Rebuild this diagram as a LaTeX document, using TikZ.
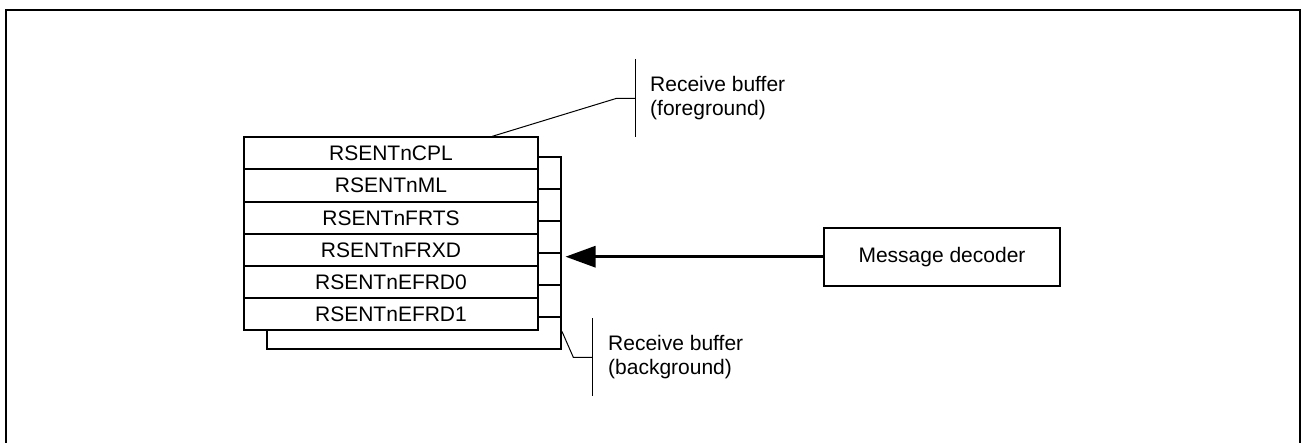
\documentclass[tikz,border=0pt]{standalone}
\usepackage{fontspec}
\setmainfont{Liberation Sans}
\usetikzlibrary{arrows.meta,calc}
\tikzset{
  txt/.style={font=\fontsize{21pt}{24pt}\selectfont},
  regrow/.style={txt, draw, line width=2pt, fill=white, inner sep=0pt,
    minimum width=294pt, minimum height=32.2pt},
  backrow/.style={draw, line width=2pt, fill=white, inner sep=0pt,
    minimum width=294.3pt, minimum height=32.05pt},
  blockbox/.style={txt, draw, line width=2pt, fill=white, inner sep=0pt,
    minimum width=236pt, minimum height=58pt},
  thinline/.style={line width=1pt},
  framestyle/.style={line width=1.7pt},
  arr/.style={line width=3pt, -{Triangle[length=30pt,width=21pt]}, shorten >=3.5pt},
  lbl/.style={txt, align=left, anchor=west, inner sep=0pt}
}
\begin{document}
\begin{tikzpicture}[x=1pt,y=-1pt]
\useasboundingbox (0,0) rectangle (1301,443);
% outer frame
\draw[framestyle] (6,450) -- (6,10) -- (1300,10) -- (1300,450);
% background buffer
\node[backrow] (b1) at (413.85,172.7) {};
\node[backrow] (b2) at (413.85,204.75) {};
\node[backrow] (b3) at (413.85,236.8) {};
\node[backrow] (b4) at (413.85,268.85) {};
\node[backrow] (b5) at (413.85,300.9) {};
\node[backrow] (b6) at (413.85,332.95) {};
% foreground buffer
\node[regrow] (r1) at (391,153.4) {RSENTnCPL};
\node[regrow] (r2) at (391,185.6) {RSENTnML};
\node[regrow] (r3) at (391,217.8) {RSENTnFRTS};
\node[regrow] (r4) at (391,250.0) {RSENTnFRXD};
\node[regrow] (r5) at (391,282.2) {RSENTnEFRD0};
\node[regrow] (r6) at (391,314.4) {RSENTnEFRD1};
% message decoder
\node[blockbox] (md) at (942,256.7) {Message decoder};
\draw[arr] (md.west) -- (md.west -| b1.east);
% foreground label
\coordinate (fk) at (616.7,98.3);
\coordinate (ft) at (635.7,98.3);
\draw[thinline] (635.7,59) -- (635.7,136.7);
\draw[thinline] ($(r1.north west)!0.8425!(r1.north east)$) -- (fk) -- (ft);
\node[lbl] (fl) at (650,98.3) {Receive buffer\\(foreground)};
% background label
\coordinate (bk) at (573.3,357.3);
\coordinate (bt) at (592.7,357.3);
\draw[thinline] (592.7,318.3) -- (592.7,396);
\draw[thinline] (b6.east |- r6.south) -- (bk) -- (bt);
\node[lbl] (bl) at (608,357.3) {Receive buffer\\(background)};
\end{tikzpicture}
\end{document}
